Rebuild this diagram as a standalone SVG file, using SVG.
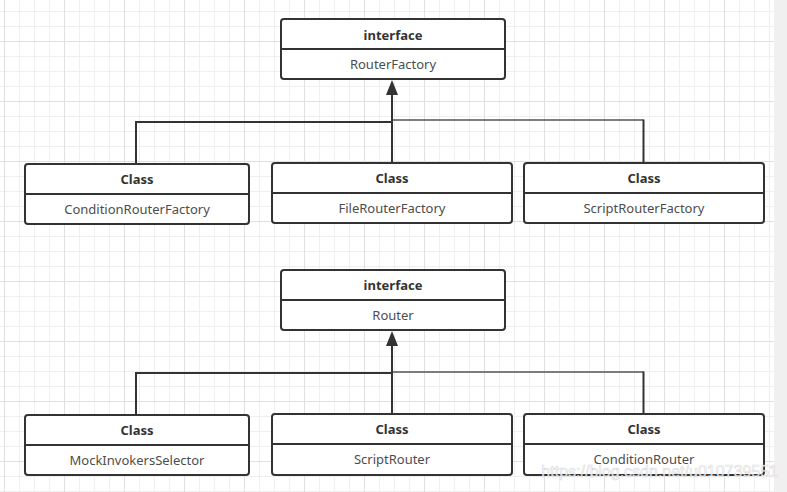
<svg xmlns="http://www.w3.org/2000/svg" width="787" height="492" viewBox="0 0 787 492">
<defs>
<pattern id="minor" patternUnits="userSpaceOnUse" x="4" y="11" width="15" height="15">
<path d="M0.5,0 V15 M0,0.5 H15" stroke="#efefef" stroke-width="1" fill="none"/>
</pattern>
<pattern id="major" patternUnits="userSpaceOnUse" x="4" y="41" width="60" height="60">
<path d="M0.5,0 V60 M0,0.5 H60" stroke="#e0e0e0" stroke-width="1" fill="none"/>
</pattern>
<marker id="tri" markerUnits="userSpaceOnUse" markerWidth="15" markerHeight="12" viewBox="0 0 15 12" refX="0" refY="6" orient="auto">
<path d="M0,0 L15,6 L0,12 z" fill="#333"/>
</marker>
</defs>
<style>
.box{fill:#fff;stroke:#333;stroke-width:2}
.div{stroke:#333;stroke-width:2}
.t{font-family:"Noto Sans","Open Sans","Liberation Sans",sans-serif;font-size:13px;text-anchor:middle}
.b{font-weight:bold;fill:#333}
.n{fill:#4d4d4d}
.c{fill:none;stroke:#333;stroke-width:2}
.c2{fill:none;stroke:#555;stroke-width:1.5}
</style>
<rect x="0" y="0" width="787" height="492" fill="#fff"/>
<rect x="0" y="0" width="774" height="492" fill="url(#minor)"/>
<rect x="0" y="0" width="774" height="492" fill="url(#major)"/>
<rect x="774" y="0" width="13" height="492" fill="#f0f0f0"/>

<g id="connectors">
<path class="c" d="M136,163 V122 H392"/>
<path class="c2" d="M392,120 H643.5"/>
<path class="c" d="M643.5,163 V119.5"/>
<path class="c" d="M392,163 V95" marker-end="url(#tri)"/>
<path class="c" d="M136,414 V373 H392"/>
<path class="c2" d="M392,372 H643.5"/>
<path class="c" d="M643.5,414 V371.5"/>
<path class="c" d="M392,414 V346" marker-end="url(#tri)"/>
</g>

<g id="RouterFactory">
<rect class="box" x="281" y="19" width="224" height="60" rx="3"/>
<line class="div" x1="281" y1="49" x2="505" y2="49"/>
<text class="t b" x="393" y="39.5">interface</text>
<text class="t n" x="393" y="69">RouterFactory</text>
</g>
<g id="ConditionRouterFactory">
<rect class="box" x="25" y="164" width="224" height="60" rx="3"/>
<line class="div" x1="25" y1="194" x2="249" y2="194"/>
<text class="t b" x="137" y="184">Class</text>
<text class="t n" x="137" y="214">ConditionRouterFactory</text>
</g>
<g id="FileRouterFactory">
<rect class="box" x="272" y="163" width="240" height="60" rx="3"/>
<line class="div" x1="272" y1="193" x2="512" y2="193"/>
<text class="t b" x="392" y="183">Class</text>
<text class="t n" x="392" y="213">FileRouterFactory</text>
</g>
<g id="ScriptRouterFactory">
<rect class="box" x="524" y="163" width="240" height="60" rx="3"/>
<line class="div" x1="524" y1="193" x2="764" y2="193"/>
<text class="t b" x="644" y="183">Class</text>
<text class="t n" x="644" y="213">ScriptRouterFactory</text>
</g>

<g id="Router">
<rect class="box" x="281" y="270" width="224" height="60" rx="3"/>
<line class="div" x1="281" y1="300" x2="505" y2="300"/>
<text class="t b" x="393" y="290">interface</text>
<text class="t n" x="393" y="320">Router</text>
</g>
<g id="MockInvokersSelector">
<rect class="box" x="25" y="415" width="224" height="60" rx="3"/>
<line class="div" x1="25" y1="445" x2="249" y2="445"/>
<text class="t b" x="137" y="435">Class</text>
<text class="t n" x="137" y="465">MockInvokersSelector</text>
</g>
<g id="ScriptRouter">
<rect class="box" x="272" y="414" width="240" height="61" rx="3"/>
<line class="div" x1="272" y1="444" x2="512" y2="444"/>
<text class="t b" x="392" y="434">Class</text>
<text class="t n" x="392" y="464">ScriptRouter</text>
</g>
<g id="ConditionRouter">
<rect class="box" x="524" y="414" width="240" height="61" rx="3"/>
<line class="div" x1="524" y1="444" x2="764" y2="444"/>
<text class="t b" x="644" y="434">Class</text>
<text class="t n" x="644" y="464">ConditionRouter</text>
</g>

<text x="778" y="477" font-family="'Liberation Sans',Arial,sans-serif" font-size="16" text-anchor="end" fill="#ffffff" fill-opacity="0.85" stroke="#c8c8c8" stroke-width="0.6" stroke-opacity="0.7">https://blog.csdn.net/u010739551</text>
</svg>
